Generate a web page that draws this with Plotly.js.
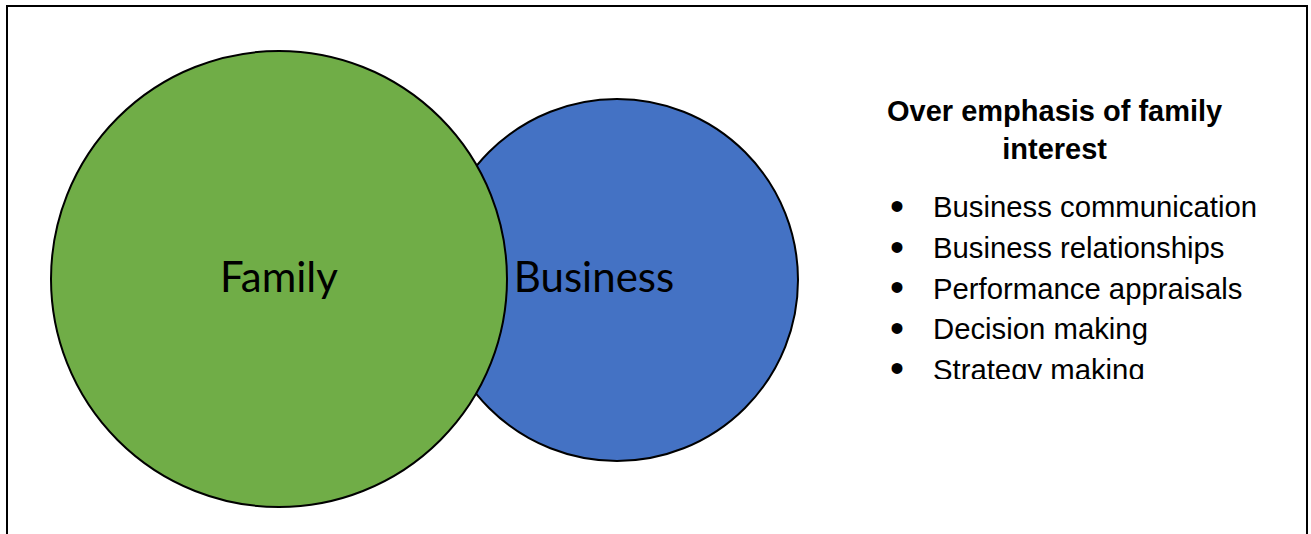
<!DOCTYPE html>
<html>
<head>
<meta charset="utf-8">
<script src="https://cdn.plot.ly/plotly-3.0.1.min.js"></script>
<style>html,body{margin:0;padding:0;background:#fff;}#chart{width:1311px;height:534px;}</style>
</head>
<body>
<div id="chart"></div>
<script>
// ---- data ----
const setNames = ['Business', 'Family'];
const setRadius = [181, 228];
const setColors = ['#4472C4', '#70AD47'];
const panelTitle = 'Over emphasis of family<br>interest';
const panelItems = ['Business communication', 'Business relationships', 'Performance appraisals', 'Decision making', 'Strategy making'];

// ---- layout constants (pixel coordinate system) ----
const W = 1311, H = 534;
const centersX = [617, 279];
const centersY = [280, 279];
const labelX = [594, 279];
const labelY = [281, 281];
const itemX = 933, bulletX = 897, itemY0 = 210, itemStep = 40.6;

const shapes = [];
setNames.forEach((n, i) => {
  shapes.push({
    type: 'circle', xref: 'x', yref: 'y', layer: 'below',
    x0: centersX[i] - setRadius[i], x1: centersX[i] + setRadius[i],
    y0: centersY[i] - setRadius[i], y1: centersY[i] + setRadius[i],
    fillcolor: setColors[i], line: {color: '#000', width: 2}
  });
});
// clip the last line of the list (white mask)
shapes.push({type: 'rect', xref: 'x', yref: 'y', layer: 'above', x0: 870, x1: 1300, y0: 379, y1: 420, fillcolor: '#fff', line: {width: 0}});
// outer frame
shapes.push({type: 'rect', xref: 'x', yref: 'y', layer: 'above', x0: 7, x1: 1307, y0: 6, y1: 545, fillcolor: 'rgba(0,0,0,0)', line: {color: '#000', width: 2}});

const itemYs = panelItems.map((_, i) => itemY0 + i * itemStep);

const traces = [
  {
    type: 'scatter', mode: 'text', x: setNames.map((_, i) => labelX[i]), y: setNames.map((_, i) => labelY[i]),
    text: setNames, textposition: 'middle center',
    textfont: {family: 'Lato, "Open Sans", sans-serif', size: 42, color: '#000'},
    hoverinfo: 'skip', showlegend: false, cliponaxis: false
  },
  {
    type: 'scatter', mode: 'text', x: panelItems.map(() => bulletX), y: itemYs,
    text: panelItems.map(() => '•'), textposition: 'middle center',
    textfont: {family: '"Liberation Sans", Arial, sans-serif', size: 40, color: '#000'},
    hoverinfo: 'skip', showlegend: false, cliponaxis: false
  },
  {
    type: 'scatter', mode: 'text', x: panelItems.map(() => itemX), y: itemYs,
    text: panelItems, textposition: 'middle right',
    textfont: {family: '"Liberation Sans", Arial, sans-serif', size: 29.3, color: '#000'},
    hoverinfo: 'skip', showlegend: false, cliponaxis: false
  }
];

const layout = {
  width: W, height: H,
  margin: {l: 0, r: 0, t: 0, b: 0},
  paper_bgcolor: '#fff', plot_bgcolor: '#fff',
  xaxis: {range: [0, W], visible: false, fixedrange: true},
  yaxis: {range: [H, 0], visible: false, fixedrange: true},
  shapes: shapes,
  annotations: [{
    xref: 'x', yref: 'y', x: 1054, y: 130, text: '<b>' + panelTitle + '</b>',
    showarrow: false, align: 'center', xanchor: 'center', yanchor: 'middle',
    font: {family: '"Liberation Sans", Arial, sans-serif', size: 29, color: '#000'}
  }],
  showlegend: false
};

Plotly.newPlot('chart', traces, layout, {staticPlot: true, displayModeBar: false});
</script>
</body>
</html>
